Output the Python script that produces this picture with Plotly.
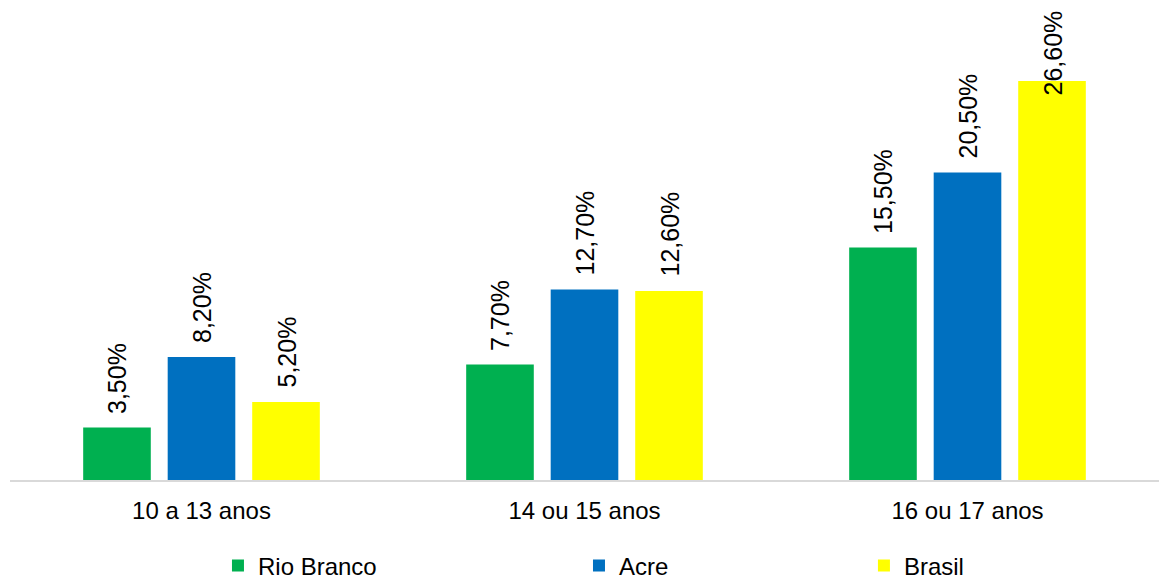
import plotly.graph_objects as go

# Faixas etárias e percentuais por localidade
categorias = ["10 a 13 anos", "14 ou 15 anos", "16 ou 17 anos"]
series = ["Rio Branco", "Acre", "Brasil"]
rio_branco = [3.5, 7.7, 15.5]
acre = [8.2, 12.7, 20.5]
brasil = [5.2, 12.6, 26.6]
cores = ["#00B050", "#0070C0", "#FFFF00"]

valores = [rio_branco, acre, brasil]

FONT = "Liberation Sans, Arial, sans-serif"
Y_MAX = 32
BARGAP = 0.338
BARGROUPGAP = 0.2

fig = go.Figure()
legend_ids = ["legend", "legend2", "legend3"]
for nome, vals, cor, lg in zip(series, valores, cores, legend_ids):
    fig.add_trace(go.Bar(
        x=categorias, y=vals, name=nome,
        marker=dict(color=cor, line=dict(width=0)),
        legend=lg, showlegend=True,
    ))


def rotulo(v):
    return f"{v:.2f}".replace(".", ",") + "%"


# Rótulos de dados verticais acima de cada barra
slot = (1 - BARGAP) / len(series)
label_len_units = 105 / 15  # espaço ocupado pelo rótulo (gap + texto) em unidades do eixo
annotations = []
for j, vals in enumerate(valores):
    for i, v in enumerate(vals):
        xpos = i + (j - (len(series) - 1) / 2) * slot
        base = dict(
            x=xpos, xref="x", text=rotulo(v), textangle=-90, showarrow=False,
            font=dict(family=FONT, size=25, color="#000000"),
            xanchor="center",
        )
        if v + label_len_units > Y_MAX:
            base.update(yref="paper", y=1, yanchor="top", yshift=-9)
        else:
            base.update(yref="y", y=v, yanchor="bottom", yshift=12)
        annotations.append(base)

legend_x = [0.181, 0.4952, 0.7432]
legend_common = dict(
    orientation="h", yref="container", yanchor="middle", y=14 / 580,
    xanchor="left",
    font=dict(family=FONT, size=24, color="#000000"),
    bgcolor="rgba(0,0,0,0)", borderwidth=0,
)

fig.update_layout(
    width=1159, height=580,
    margin=dict(l=10, r=0, t=0, b=100, autoexpand=False),
    paper_bgcolor="white", plot_bgcolor="white",
    showlegend=True,
    barmode="group", bargap=BARGAP, bargroupgap=BARGROUPGAP,
    font=dict(family=FONT, size=24, color="#000000"),
    xaxis=dict(
        showline=True, linecolor="#D9D9D9", linewidth=1.5,
        ticks="", showgrid=False, zeroline=False,
        tickfont=dict(family=FONT, size=24, color="#000000"),
        ticklabelstandoff=8,
    ),
    yaxis=dict(
        range=[0, Y_MAX], visible=False, showgrid=False, zeroline=False,
    ),
    legend=dict(x=legend_x[0], **legend_common),
    legend2=dict(x=legend_x[1], **legend_common),
    legend3=dict(x=legend_x[2], **legend_common),
    annotations=annotations,
)

fig.write_html("out.html")
